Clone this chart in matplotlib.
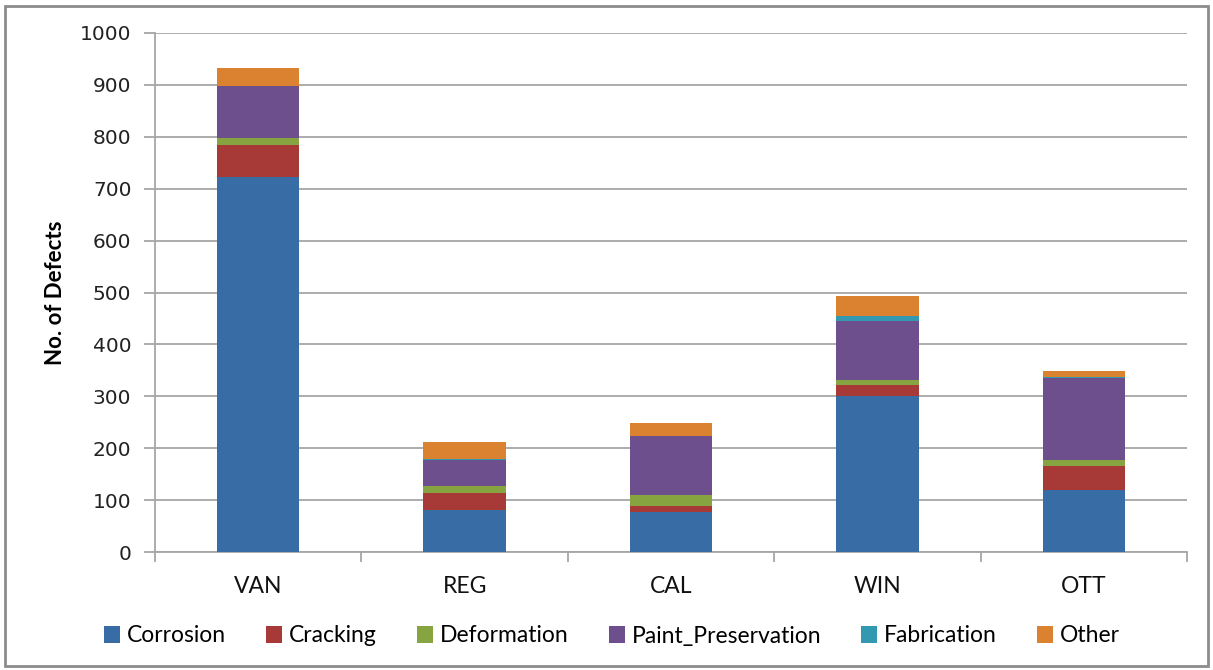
import matplotlib
matplotlib.use("Agg")
import matplotlib.pyplot as plt
from matplotlib.patches import Rectangle
import numpy as np

sites = ["VAN", "REG", "CAL", "WIN", "OTT"]
corrosion = [722, 80, 78, 301, 119]
cracking = [62, 33, 11, 20, 46]
deformation = [13, 14, 20, 10, 12]
paint_preservation = [100, 51, 115, 114, 159]
fabrication = [1, 2, 0, 10, 2]
other = [34, 32, 25, 38, 11]

series_names = ["Corrosion", "Cracking", "Deformation", "Paint_Preservation", "Fabrication", "Other"]
series_values = [corrosion, cracking, deformation, paint_preservation, fabrication, other]
colors = ["#376CA4", "#A73A36", "#86A43F", "#6C4F8C", "#3399B1", "#DB8230"]
y_ticks = [0, 100, 200, 300, 400, 500, 600, 700, 800, 900, 1000]

W, H = 1213, 670
fig = plt.figure(figsize=(W / 100, H / 100), dpi=100)
ax = fig.add_axes([155 / W, 1 - 552 / H, (1187 - 155) / W, (552 - 33) / H])

x = np.arange(len(sites))
bottom = np.zeros(len(sites))
handles = []
for name, vals, col in zip(series_names, series_values, colors):
    vals = np.array(vals, dtype=float)
    b = ax.bar(x, vals, width=0.4, bottom=bottom, color=col, label=name,
               edgecolor="none", zorder=3)
    handles.append(b)
    bottom += vals

ax.set_xlim(-0.5, len(sites) - 0.5)
ax.set_ylim(0, 1000)
ax.set_yticks(y_ticks)
ax.set_yticklabels([str(v) for v in y_ticks], fontsize=14.5, family="DejaVu Sans", color="#222222")
ax.yaxis.grid(True, color="#A6A6A6", linewidth=1.3, zorder=0)
ax.set_axisbelow(True)

# category labels at centers, tick marks at category boundaries
ax.set_xticks(x)
ax.set_xticklabels(sites, fontsize=16.5, family="Lato", color="#111111")
ax.tick_params(axis="x", which="major", length=0, pad=17)
ax.set_xticks(np.arange(-0.5, len(sites)), minor=True)
ax.tick_params(axis="x", which="minor", length=7, color="#A6A6A6", width=1.3)
ax.tick_params(axis="y", length=8, color="#A6A6A6", width=1.3, pad=9)

for side in ["top", "right"]:
    ax.spines[side].set_visible(False)
for side in ["left", "bottom"]:
    ax.spines[side].set_color("#A6A6A6")
    ax.spines[side].set_linewidth(1.3)

ax.set_ylabel("No. of Defects", fontsize=16, fontweight="bold", family="Lato", labelpad=10)

fig.legend(handles=handles, labels=series_names, loc="center",
           bbox_to_anchor=(612 / W, 1 - 636 / H), ncol=6, frameon=False,
           prop={"family": "Lato", "size": 16.5}, handlelength=0.7,
           handleheight=0.7, handletextpad=0.3, columnspacing=1.75)

# outer frame of the chart area
fig.patches.append(Rectangle((5 / W, 4 / H), (1208 - 5) / W, (664 - 4) / H,
                             transform=fig.transFigure, fill=False,
                             edgecolor="#8C8C8C", linewidth=2))

fig.savefig("out.png", dpi=100)
